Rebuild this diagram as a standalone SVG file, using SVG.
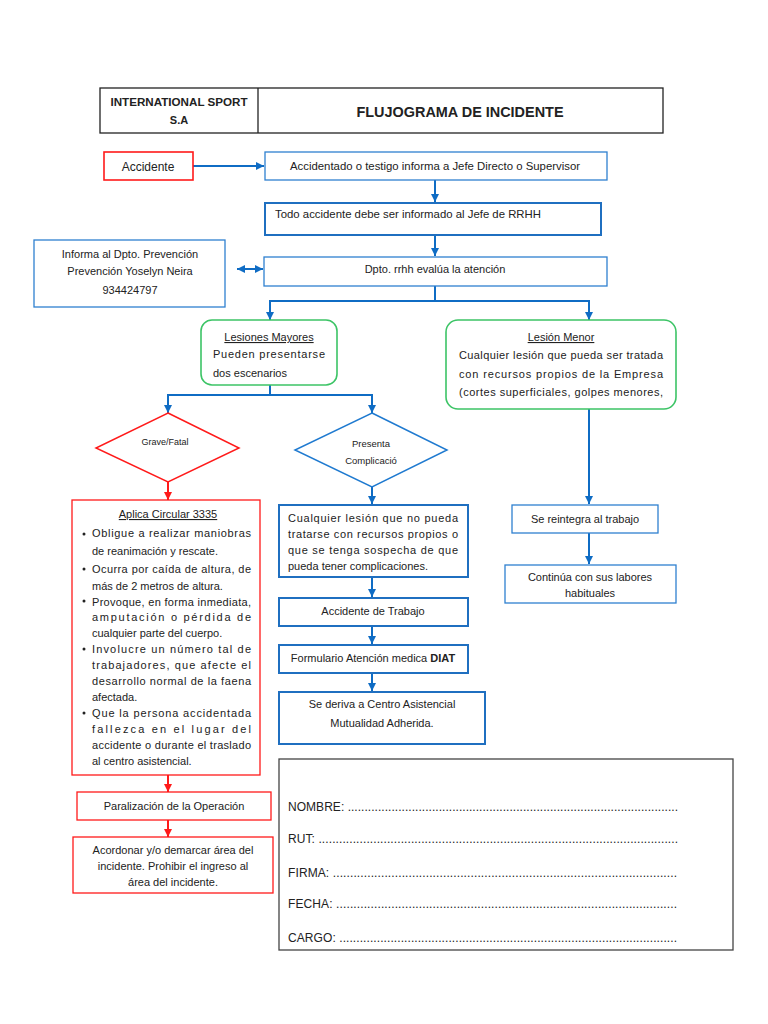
<svg xmlns="http://www.w3.org/2000/svg" width="768" height="1024" viewBox="0 0 768 1024">
<style>
text{font-family:"Liberation Sans",Arial,sans-serif;font-size:11px;fill:#222}
.c{text-anchor:middle}
.u{text-decoration:underline}
.b{font-weight:bold}
.bx{fill:#fff;stroke:#2f80d0;stroke-width:1.3}
.bx2{fill:#fff;stroke:#1f6fc0;stroke-width:2}
.rx{fill:#fff;stroke:#ff1a1a;stroke-width:1.3}
.gx{fill:#fff;stroke:#3cc466;stroke-width:1.6}
.bl{fill:none;stroke:#0f6cc4;stroke-width:2}
.rl{fill:none;stroke:#ff1a1a;stroke-width:2}
.sig{font-size:12px}
</style>
<defs>
<marker id="ab" viewBox="0 0 10 10" refX="10" refY="5" markerWidth="8" markerHeight="8" markerUnits="userSpaceOnUse" orient="auto-start-reverse"><path d="M0,0L10,5L0,10z" fill="#0f6cc4"/></marker>
<marker id="ar" viewBox="0 0 10 10" refX="10" refY="5" markerWidth="8" markerHeight="8" markerUnits="userSpaceOnUse" orient="auto"><path d="M0,0L10,5L0,10z" fill="#ff1a1a"/></marker>
</defs>
<rect width="768" height="1024" fill="#fff"/>

<g id="header">
<rect x="100" y="88" width="563" height="45" fill="#fff" stroke="#222" stroke-width="1.3"/>
<line x1="258" y1="88" x2="258" y2="133" stroke="#222" stroke-width="1.3"/>
<text x="179" y="106" class="c b" textLength="137" lengthAdjust="spacingAndGlyphs">INTERNATIONAL SPORT</text>
<text x="179" y="124" class="c b">S.A</text>
<text x="460" y="117" class="c b" style="font-size:15px" textLength="207" lengthAdjust="spacingAndGlyphs">FLUJOGRAMA DE INCIDENTE</text>
</g>

<g id="connectors">
<line x1="193" y1="166" x2="264" y2="166" class="bl" marker-end="url(#ab)"/>
<line x1="435" y1="180" x2="435" y2="202" class="bl" marker-end="url(#ab)"/>
<line x1="435" y1="236" x2="435" y2="256" class="bl" marker-end="url(#ab)"/>
<line x1="237" y1="269" x2="263" y2="269" class="bl" marker-start="url(#ab)" marker-end="url(#ab)"/>
<path d="M435,286V301M270,301H589" class="bl"/>
<line x1="270" y1="300" x2="270" y2="320" class="bl" marker-end="url(#ab)"/>
<line x1="589" y1="300" x2="589" y2="320" class="bl" marker-end="url(#ab)"/>
<path d="M270,385V395M168,395H372" class="bl"/>
<line x1="168" y1="394" x2="168" y2="413" class="bl" marker-end="url(#ab)"/>
<line x1="372" y1="394" x2="372" y2="413" class="bl" marker-end="url(#ab)"/>
<line x1="589" y1="409" x2="589" y2="504" class="bl" marker-end="url(#ab)"/>
<line x1="589" y1="533" x2="589" y2="564" class="bl" marker-end="url(#ab)"/>
<line x1="372" y1="487" x2="372" y2="504" class="bl" marker-end="url(#ab)"/>
<line x1="372" y1="578" x2="372" y2="597" class="bl" marker-end="url(#ab)"/>
<line x1="372" y1="627" x2="372" y2="644" class="bl" marker-end="url(#ab)"/>
<line x1="372" y1="673" x2="372" y2="691" class="bl" marker-end="url(#ab)"/>
<line x1="168" y1="482" x2="168" y2="500" class="rl" marker-end="url(#ar)"/>
<line x1="168" y1="775" x2="168" y2="792" class="rl" marker-end="url(#ar)"/>
<line x1="168" y1="820" x2="168" y2="837" class="rl" marker-end="url(#ar)"/>
</g>

<g id="accidente">
<rect x="104" y="152" width="89" height="28" class="rx" style="stroke-width:1.6"/>
<text x="148" y="171" class="c" style="font-size:12px">Accidente</text>
</g>

<g id="informa-jefe">
<rect x="265" y="152" width="342" height="28" class="bx"/>
<text x="435" y="170" class="c" textLength="290" lengthAdjust="spacingAndGlyphs">Accidentado o testigo informa a Jefe Directo o Supervisor</text>
</g>

<g id="informar-rrhh">
<rect x="265" y="203" width="336" height="32" class="bx2"/>
<text x="275" y="218" textLength="266" lengthAdjust="spacingAndGlyphs">Todo accidente debe ser informado al Jefe de  RRHH</text>
</g>

<g id="rrhh-evalua">
<rect x="264" y="257" width="343" height="29" class="bx"/>
<text x="435" y="273" class="c">Dpto. rrhh evalúa la atención</text>
</g>

<g id="prevencion">
<rect x="34" y="240" width="191" height="67" class="bx"/>
<text x="130" y="258" class="c">Informa al Dpto. Prevención</text>
<text x="130" y="275" class="c">Prevención Yoselyn Neira</text>
<text x="130" y="294" class="c">934424797</text>
</g>

<g id="lesiones-mayores">
<rect x="201" y="320" width="136" height="65" rx="11" class="gx"/>
<text x="269" y="341" class="c u">Lesiones Mayores</text>
<text x="213" y="358" textLength="112" lengthAdjust="spacing">Pueden    presentarse</text>
<text x="213" y="377">dos escenarios</text>
</g>

<g id="lesion-menor">
<rect x="446" y="320" width="230" height="89" rx="12" class="gx"/>
<text x="561" y="341" class="c u">Lesión Menor</text>
<text x="459" y="359" textLength="204" lengthAdjust="spacing">Cualquier lesión que pueda ser tratada</text>
<text x="459" y="378" textLength="204" lengthAdjust="spacing">con recursos propios de la Empresa</text>
<text x="459" y="396" textLength="204" lengthAdjust="spacing">(cortes superficiales, golpes menores,</text>
</g>

<g id="grave-fatal">
<polygon points="168,413 239,448 168,482 96,448" fill="#fff" stroke="#ff1a1a" stroke-width="1.5"/>
<text x="165" y="445" class="c" style="font-size:9px">Grave/Fatal</text>
</g>

<g id="presenta-complicacion">
<polygon points="372,413 447,450 372,487 295,450" fill="#fff" stroke="#1f7ad0" stroke-width="1.5"/>
<text x="371" y="447" class="c" style="font-size:9.5px">Presenta</text>
<text x="371" y="464" class="c" style="font-size:9.5px">Complicació</text>
</g>

<g id="aplica-circular">
<rect x="72" y="500" width="188" height="275" class="rx"/>
<text x="168" y="518" class="c u">Aplica Circular 3335</text>
<g fill="#222">
<circle cx="84" cy="534" r="1.5"/><circle cx="84" cy="569" r="1.5"/><circle cx="84" cy="601" r="1.5"/><circle cx="84" cy="649" r="1.5"/><circle cx="84" cy="713" r="1.5"/>
</g>
<text x="92" y="537" textLength="159" lengthAdjust="spacing">Obligue a realizar maniobras</text>
<text x="92" y="555">de reanimación y rescate.</text>
<text x="92" y="573" textLength="159" lengthAdjust="spacing">Ocurra por caída de altura, de</text>
<text x="92" y="590">más de 2 metros de altura.</text>
<text x="92" y="606" textLength="159" lengthAdjust="spacing">Provoque, en forma inmediata,</text>
<text x="92" y="621" textLength="159" lengthAdjust="spacing">amputación o pérdida de</text>
<text x="92" y="637">cualquier parte del cuerpo.</text>
<text x="92" y="653" textLength="159" lengthAdjust="spacing">Involucre un número tal de</text>
<text x="92" y="669" textLength="159" lengthAdjust="spacing">trabajadores, que afecte el</text>
<text x="92" y="685" textLength="159" lengthAdjust="spacing">desarrollo normal de la faena</text>
<text x="92" y="701">afectada.</text>
<text x="92" y="717" textLength="159" lengthAdjust="spacing">Que la persona accidentada</text>
<text x="92" y="733" textLength="159" lengthAdjust="spacing">fallezca en el lugar del</text>
<text x="92" y="749" textLength="159" lengthAdjust="spacing">accidente o durante el traslado</text>
<text x="92" y="765">al centro asistencial.</text>
</g>

<g id="paralizacion">
<rect x="77" y="792" width="194" height="28" class="rx"/>
<text x="174" y="810" class="c">Paralización de la Operación</text>
</g>

<g id="acordonar">
<rect x="73" y="837" width="200" height="56" class="rx"/>
<text x="173" y="854" class="c">Acordonar y/o demarcar área del</text>
<text x="173" y="870" class="c">incidente. Prohibir el ingreso al</text>
<text x="173" y="886" class="c">área del incidente.</text>
</g>

<g id="cualquier-lesion">
<rect x="279" y="505" width="189" height="72" class="bx2"/>
<text x="288" y="522" textLength="170" lengthAdjust="spacing">Cualquier lesión que no pueda</text>
<text x="288" y="538" textLength="170" lengthAdjust="spacing">tratarse con recursos propios o</text>
<text x="288" y="554" textLength="170" lengthAdjust="spacing">que se tenga sospecha de que</text>
<text x="288" y="570">pueda tener complicaciones.</text>
</g>

<g id="accidente-trabajo">
<rect x="279" y="598" width="189" height="28" class="bx2"/>
<text x="373" y="615" class="c">Accidente de Trabajo</text>
</g>

<g id="formulario-diat">
<rect x="279" y="645" width="189" height="28" class="bx2"/>
<text x="373" y="662" class="c">Formulario Atención medica <tspan class="b">DIAT</tspan></text>
</g>

<g id="centro-asistencial">
<rect x="279" y="692" width="206" height="52" class="bx2"/>
<text x="382" y="708" class="c">Se deriva a Centro Asistencial</text>
<text x="382" y="727" class="c">Mutualidad Adherida.</text>
</g>

<g id="reintegra">
<rect x="512" y="505" width="146" height="28" class="bx"/>
<text x="585" y="523" class="c">Se reintegra al trabajo</text>
</g>

<g id="continua">
<rect x="505" y="565" width="171" height="38" class="bx"/>
<text x="590" y="581" class="c">Continúa con sus labores</text>
<text x="590" y="597" class="c">habituales</text>
</g>

<g id="firma">
<rect x="279" y="759" width="454" height="191" fill="#fff" stroke="#444" stroke-width="1.3"/>
<text x="288" y="811" class="sig" textLength="390" lengthAdjust="spacing">NOMBRE: ..................................................................................................</text>
<text x="288" y="843" class="sig" textLength="390" lengthAdjust="spacing">RUT: .........................................................................................................</text>
<text x="288" y="877" class="sig" textLength="389" lengthAdjust="spacing">FIRMA: ....................................................................................................</text>
<text x="288" y="908" class="sig" textLength="389" lengthAdjust="spacing">FECHA: ...................................................................................................</text>
<text x="288" y="942" class="sig" textLength="389" lengthAdjust="spacing">CARGO: ...................................................................................................</text>
</g>
</svg>
